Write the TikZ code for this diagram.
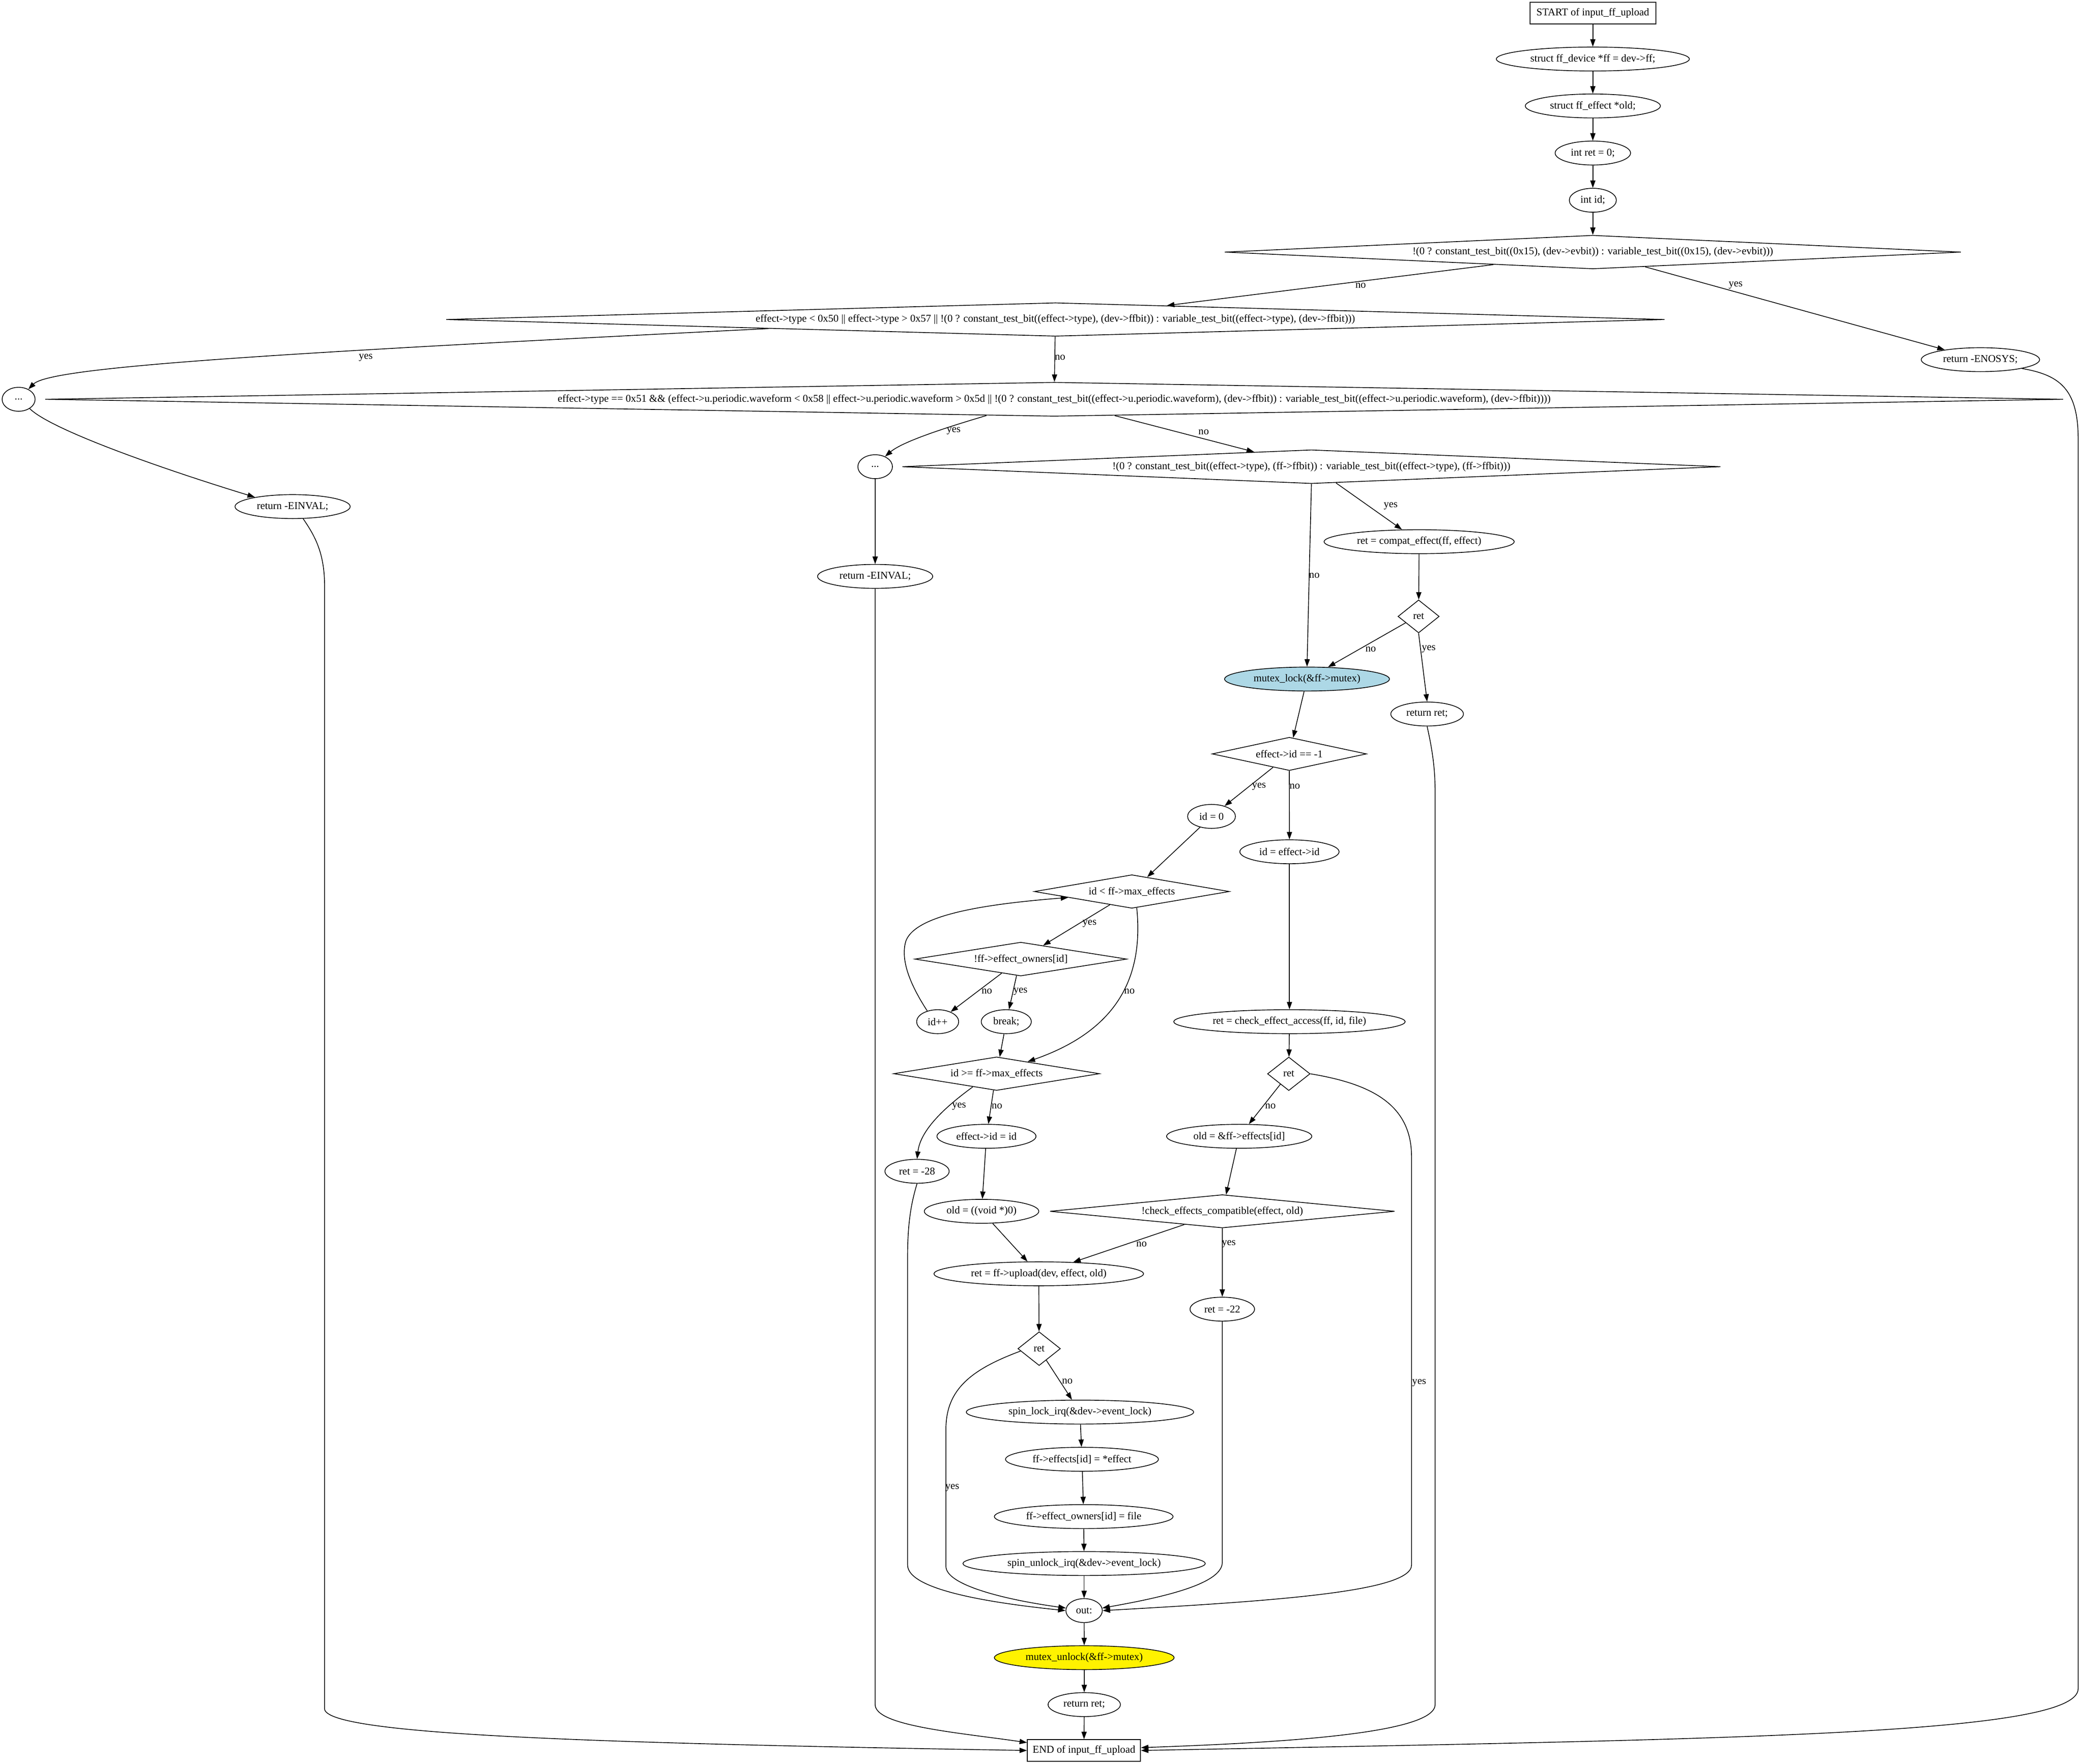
\documentclass[tikz,border=0pt]{standalone}
\usepackage{fontspec}
\setmainfont{Liberation Serif}
\usetikzlibrary{shapes.geometric,arrows.meta,calc}
\definecolor{lblue}{RGB}{173,216,230}
\newcommand{\pxu}{0.02939cm}
\newcommand{\gvfont}{\fontsize{6.57pt}{7.9pt}\selectfont}
\begin{document}
\begin{tikzpicture}[x=0.02939cm,y=-0.02939cm,
  gvbase/.style={draw, line width=0.47pt, font=\gvfont, inner sep=0pt, text=black},
  ell/.style={gvbase, ellipse, minimum width={#1*\pxu}, minimum height={18*\pxu}},
  gvbox/.style={gvbase, rectangle, minimum width={#1*\pxu}, minimum height={16.4*\pxu}},
  dia/.style n args={3}{gvbase, diamond, minimum width={2*#1*\pxu}, minimum height={2*#2*\pxu}, aspect=#3},
  conn/.style={draw, line width=0.47pt, -{Triangle[length=0.165cm,width=0.115cm]}},
  lbl/.style={font=\gvfont, inner sep=0pt}]
\path[fill=white] (0,0) rectangle (1566.9,1326.6);
\useasboundingbox (0,0) rectangle (1566.9,1326.6);

% nodes
\node[gvbox=94.6] (start) at (1197.6,9.9) {START of input\_ff\_upload};
\node[ell=145.2] (n1) at (1197.6,44.4) {struct ff\_device *ff = dev->ff;};
\node[ell=101.6] (n2) at (1197.6,79.7) {struct ff\_effect *old;};
\node[ell=56.7] (n3) at (1197.6,115.1) {int ret = 0;};
\node[ell=35.4] (n4) at (1197.6,150.6) {int id;};
\node[dia={276.8}{12.65}{21.9}] (d1) at (1197.6,189.6) {!(0 ? constant\_test\_bit((0x15), (dev->evbit)) : variable\_test\_bit((0x15), (dev->evbit)))};
\node[ell=89] (enosys) at (1489,270.5) {return -ENOSYS;};
\node[dia={458.1}{12.6}{36.4}] (d2) at (793.5,240.3) {effect->type < 0x50 || effect->type > 0x57 || !(0 ? constant\_test\_bit((effect->type), (dev->ffbit)) : variable\_test\_bit((effect->type), (dev->ffbit)))};
\node[ell=24.8] (dots1) at (14,300.3) {...};
\node[dia={758.7}{12.8}{59.3}] (d3) at (792.6,300.3) {effect->type == 0x51 \&\& (effect->u.periodic.waveform < 0x58 || effect->u.periodic.waveform > 0x5d || !(0 ? constant\_test\_bit((effect->u.periodic.waveform), (dev->ffbit)) : variable\_test\_bit((effect->u.periodic.waveform), (dev->ffbit))))};
\node[ell=86.6] (einvalA) at (220,381) {return -EINVAL;};
\node[ell=26] (dots2) at (658,351) {...};
\node[dia={307.6}{12.7}{24.2}] (d4) at (986,351) {!(0 ? constant\_test\_bit((effect->type), (ff->ffbit)) : variable\_test\_bit((effect->type), (ff->ffbit)))};
\node[ell=86.6] (einvalB) at (658,433.5) {return -EINVAL;};
\node[ell=143] (compat) at (1067,407.4) {ret = compat\_effect(ff, effect)};
\node[dia={15.5}{12.4}{1.25}] (dret1) at (1066.6,463.6) {ret};
\node[ell=124, fill=lblue] (mlock) at (982.7,510.7) {mutex\_lock(\&ff->mutex)};
\node[ell=54.6] (retA) at (1073,537) {return ret;};
\node[dia={58}{12.5}{4.64}] (did) at (969.4,567) {effect->id == -1};
\node[ell=36] (id0) at (910.9,614) {id = 0};
\node[ell=74.6] (ideff) at (969.5,640.6) {id = effect->id};
\node[dia={73.3}{12.6}{5.82}] (dlt) at (851,670.5) {id < ff->max\_effects};
\node[dia={79.7}{12.7}{6.28}] (down) at (767.5,721.3) {!ff->effect\_owners[id]};
\node[ell=31.6] (idpp) at (705,768.4) {id++};
\node[ell=37.6] (brk) at (756.6,768.4) {break;};
\node[ell=174] (chk) at (969.5,768.4) {ret = check\_effect\_access(ff, id, file)};
\node[dia={77.4}{12.6}{6.14}] (dge) at (749.3,807.5) {id >= ff->max\_effects};
\node[dia={16}{12.6}{1.27}] (dret2) at (969,807.6) {ret};
\node[ell=74.5] (eid) at (741.7,854.6) {effect->id = id};
\node[ell=109.2] (oldp) at (931.7,854.6) {old = \&ff->effects[id]};
\node[ell=48.3] (r28) at (689.5,880.9) {ret = -28};
\node[ell=86.1] (oldv) at (738,911) {old = ((void *)0)};
\node[dia={129.6}{12.5}{10.37}] (dcompat) at (919,911) {!check\_effects\_compatible(effect, old)};
\node[ell=157.6] (upl) at (781,958) {ret = ff->upload(dev, effect, old)};
\node[ell=48.5] (r22) at (919,984.6) {ret = -22};
\node[dia={16}{12.7}{1.26}] (dret3) at (781.3,1014.3) {ret};
\node[ell=171] (slock) at (812,1062) {spin\_lock\_irq(\&dev->event\_lock)};
\node[ell=115] (effs) at (813.5,1097.5) {ff->effects[id] = *effect};
\node[ell=134.4] (owns) at (814.8,1140.6) {ff->effect\_owners[id] = file};
\node[ell=182.2] (sunlock) at (815.1,1175.9) {spin\_unlock\_irq(\&dev->event\_lock)};
\node[ell=27.4] (out) at (815.1,1211.3) {out:};
\node[ell=135.2, fill=yellow] (munlock) at (815.2,1246.7) {mutex\_unlock(\&ff->mutex)};
\node[ell=54.4] (retB) at (815.2,1282) {return ret;};
\node[gvbox=85.1] (finish) at (815,1316.5) {END of input\_ff\_upload};

% connectors
\draw[conn] (start) -- (n1);
\draw[conn] (n1) -- (n2);
\draw[conn] (n2) -- (n3);
\draw[conn] (n3) -- (n4);
\draw[conn] (n4) -- (d1);
\draw[conn] ($(d1.west)!0.73!(d1.south)$) -- ($(d2.north)!0.183!(d2.east)$);
\draw[conn] ($(d1.south)!0.142!(d1.east)$) -- (enosys);
\draw[conn] (enosys.-12) .. controls (1548,282) and (1562.5,292) .. (1562.5,330) -- (1562.5,1270) .. controls (1562.5,1305) and (1300,1308) .. (finish.east);
\draw[conn] ($(d2.west)!0.53!(d2.south)$) .. controls (200,266) and (38,276) .. (dots1.46);
\draw[conn] (d2) -- (d3);
\draw[conn] (dots1.-40) .. controls (38,323) and (120,352) .. (einvalA.166);
\draw[conn] (einvalA.-49) .. controls (236,402) and (244,415) .. (244,440) -- (244,1285) .. controls (244,1305) and (450,1311) .. (finish.west);
\draw[conn] ($(d3.west)!0.933!(d3.south)$) .. controls (720,319) and (680,331) .. (dots2.46);
\draw[conn] ($(d3.south)!0.06!(d3.east)$) -- ($(d4.west)!0.86!(d4.north)$);
\draw[conn] (dots2) -- (einvalB);
\draw[conn] (einvalB) -- (658,1282) .. controls (658,1298) and (720,1303) .. ($(finish.north west)!0.3!(finish.west)$);
\draw[conn] ($(d4.south)!0.06!(d4.east)$) -- (compat);
\draw[conn] (d4.south) -- (mlock.north);
\draw[conn] (compat) -- (dret1);
\draw[conn] ($(dret1.west)!0.38!(dret1.south)$) -- (mlock);
\draw[conn] (dret1.south) -- (retA.north);
\draw[conn] (retA.south) .. controls (1076,560) and (1079,575) .. (1079,595) -- (1079,1282) .. controls (1079,1305) and (950,1311) .. ($(finish.east)!0.25!(finish.north east)$);
\draw[conn] (mlock) -- (did);
\draw[conn] ($(did.south)!0.21!(did.west)$) -- (id0);
\draw[conn] (did.south) -- (ideff);
\draw[conn] (id0) -- (dlt);
\draw[conn] (ideff) -- (chk);
\draw[conn] ($(dlt.south)!0.225!(dlt.west)$) -- ($(down.north)!0.21!(down.east)$);
\draw[conn] ($(dlt.south)!0.05!(dlt.east)$) .. controls (860,735) and (840,775) .. ($(dge.north)!0.3!(dge.east)$);
\draw[conn] ($(down.south)!0.18!(down.west)$) -- (idpp);
\draw[conn] ($(down.south)!0.04!(down.west)$) -- (brk);
\draw[conn] (idpp.134) .. controls (684,740) and (677,722) .. (681,708) .. controls (688,688) and (740,680) .. ($(dlt.west)!0.35!(dlt.south)$);
\draw[conn] (brk) -- (dge);
\draw[conn] (chk) -- (dret2);
\draw[conn] ($(dret2.south)!0.39!(dret2.west)$) -- (oldp);
\draw[conn] (dret2.east) .. controls (1030,815) and (1061.3,830) .. (1061.3,870) -- (1061.3,1177) .. controls (1061.3,1197) and (960,1204) .. (out.east);
\draw[conn] ($(dge.south)!0.23!(dge.west)$) .. controls (710,833) and (692,850) .. (r28.north);
\draw[conn] ($(dge.south)!0.03!(dge.west)$) -- (eid);
\draw[conn] (eid) -- (oldv);
\draw[conn] (oldp) -- (dcompat);
\draw[conn] (r28.south) .. controls (685,905) and (682.4,920) .. (682.4,945) -- (682.4,1177) .. controls (682.4,1195) and (740,1205) .. (out.west);
\draw[conn] (oldv) -- (upl);
\draw[conn] ($(dcompat.south)!0.22!(dcompat.west)$) -- (upl);
\draw[conn] (dcompat.south) -- (r22);
\draw[conn] (r22) -- (919,1175) .. controls (919,1192) and (870,1202) .. (out.8);
\draw[conn] (upl) -- (dret3);
\draw[conn] ($(dret3.south)!0.33!(dret3.east)$) -- (slock);
\draw[conn] ($(dret3.west)!0.14!(dret3.south)$) .. controls (730,1030) and (711.2,1045) .. (711.2,1075) -- (711.2,1178) .. controls (711.2,1192) and (755,1203) .. (out.172);
\draw[conn] (slock) -- (effs);
\draw[conn] (effs) -- (owns);
\draw[conn] (owns) -- (sunlock);
\draw[conn] (sunlock) -- (out);
\draw[conn] (out) -- (munlock);
\draw[conn] (munlock) -- (retB);
\draw[conn] (retB) -- (finish);

% edge labels
\node[lbl] (l1) at (1023,214.6) {no};
\node[lbl] (l2) at (1305,214.6) {yes};
\node[lbl] (l3) at (275,269) {yes};
\node[lbl] (l4) at (797,269) {no};
\node[lbl] (l5) at (717,324) {yes};
\node[lbl] (l6) at (905,325) {no};
\node[lbl] (l7) at (1045.6,380.5) {yes};
\node[lbl] (l8) at (988.2,433) {no};
\node[lbl] (l9) at (1030.6,488.4) {no};
\node[lbl] (l10) at (1074.2,488) {yes};
\node[lbl] (l11) at (946.6,591.6) {yes};
\node[lbl] (l12) at (973.5,591.6) {no};
\node[lbl] (l13) at (819.2,694.8) {yes};
\node[lbl] (l14) at (849.2,745.6) {no};
\node[lbl] (l15) at (742,745.6) {no};
\node[lbl] (l16) at (767.3,745.6) {yes};
\node[lbl] (l17) at (721.1,832.1) {yes};
\node[lbl] (l18) at (749.6,832.1) {no};
\node[lbl] (l19) at (955.2,832.1) {no};
\node[lbl] (l20) at (1067,1040) {yes};
\node[lbl] (l21) at (858.3,935.6) {no};
\node[lbl] (l22) at (923.9,935.6) {yes};
\node[lbl] (l23) at (802.5,1039) {no};
\node[lbl] (l24) at (716,1119) {yes};
\end{tikzpicture}
\end{document}
